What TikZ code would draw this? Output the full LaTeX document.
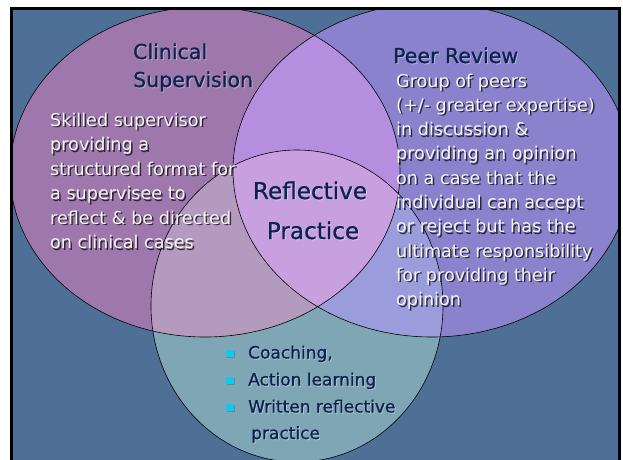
\documentclass[tikz,border=0pt]{standalone}
\usepackage{fontspec}
\setmainfont{DejaVu Sans}
\newfontfamily\heavyf[FakeBold=0.8]{DejaVu Sans}
\definecolor{bgc}{HTML}{4F7096}
\definecolor{lc}{HTML}{9E78AC}
\definecolor{rc}{HTML}{8A82CC}
\definecolor{bc}{HTML}{7FA6B4}
\definecolor{lrc}{HTML}{B58EE0}
\definecolor{lbc}{HTML}{B59AC0}
\definecolor{rbc}{HTML}{9A9CDC}
\definecolor{lrbc}{HTML}{C8A0E0}
\definecolor{navy}{HTML}{0C234F}
\definecolor{bcyan}{HTML}{10C8F0}
\begin{document}
\begin{tikzpicture}[x=1pt,y=-1pt,
  wtxt/.style={anchor=base west, inner sep=0, text=white!96!black, font=\fontsize{17.6}{20}\selectfont},
  wsh/.style={wtxt, text=black, opacity=0.7},
  ttl/.style={anchor=base west, inner sep=0, text=navy, font=\heavyf\fontsize{20.5}{24}\selectfont},
  tsh/.style={ttl, text=white, opacity=0.3},
  btxt/.style={anchor=base west, inner sep=0, text=navy, font=\heavyf\fontsize{17}{20}\selectfont},
  bsh/.style={btxt, text=white, opacity=0.3},
  rtxt/.style={anchor=base, inner sep=0, text=navy, font=\heavyf\fontsize{23.1}{26}\selectfont},
  rsh/.style={rtxt, text=white, opacity=0.3},
  outline/.style={draw=black, line width=0.6pt},
  bsq/.style={fill=bcyan, minimum size=7.5pt, inner sep=0, draw=none}]
\useasboundingbox (0,0) rectangle (623,459);
\fill[white] (0,0) rectangle (623,459);
\def\pL{(205,172) ellipse [x radius=195, y radius=165]}
\def\pR{(432,170) ellipse [x radius=199, y radius=167]}
\def\pB{(297,306) ellipse [x radius=146, y radius=156]}
\begin{scope}
  \clip (11.5,8) rectangle (619,470);
  \fill[bgc] (11.5,8) rectangle (619,470);
  \fill[lc] \pL;
  \fill[rc] \pR;
  \fill[bc] \pB;
  \begin{scope}
    \clip \pR;
    \fill[rbc] \pB;
  \end{scope}
  \begin{scope}
    \clip \pL;
    \fill[lrc] \pR;
    \fill[lbc] \pB;
    \clip \pR;
    \fill[lrbc] \pB;
  \end{scope}
  \draw[outline] \pL;
  \draw[outline] \pR;
  \draw[outline] \pB;
\end{scope}
\draw[line width=3pt] (11.5,470) -- (11.5,8) -- (619,8) -- (619,470);

% titles
\node[tsh] (t1s) at (134,60) {Clinical};
\node[ttl] (t1) at (133,59) {Clinical};
\node[tsh] (t2s) at (134,88) {Supervision};
\node[ttl] (t2) at (133,87) {Supervision};
\node[tsh] (t3s) at (394,64) {Peer Review};
\node[ttl] (t3) at (393,63) {Peer Review};
\node[rsh] (r1s) at (311,200) {Reflective};
\node[rtxt] (r1) at (310,199) {Reflective};
\node[rsh] (r2s) at (314,240) {Practice};
\node[rtxt] (r2) at (313,239) {Practice};

% left body
\foreach \t [count=\i] in {Skilled supervisor, providing a, structured format for, a supervisee to, reflect \& be directed, on clinical cases}{
  \node[wsh] (ls\i) at (51.5,{127.5+24.5*(\i-1)}) {\t};
  \node[wtxt] (l\i) at (50,{126+24.5*(\i-1)}) {\t};
}
% right body
\foreach \t [count=\i] in {Group of peers, {(+/- greater expertise)}, in discussion \&, providing an opinion, on a case that the, individual can accept, or reject but has the, ultimate responsibility, for providing their, opinion}{
  \node[wsh] (rs\i) at (397.5,{88.5+24.3*(\i-1)}) {\t};
  \node[wtxt] (rr\i) at (396,{87+24.3*(\i-1)}) {\t};
}
% bullets
\foreach \t [count=\i] in {{Coaching,}, Action learning, Written reflective}{
  \node[bsq, fill=black!60, opacity=0.5] (bqs\i) at (231,{354.5+27*(\i-1)}) {};
  \node[bsq] (bq\i) at (230,{353.5+27*(\i-1)}) {};
  \node[bsh] (bs\i) at (249,{359.5+27*(\i-1)}) {\t};
  \node[btxt] (b\i) at (248,{358.5+27*(\i-1)}) {\t};
}
\node[bsh] (b4s) at (252,440) {practice};
\node[btxt] (b4) at (251,439) {practice};
\end{tikzpicture}
\end{document}
